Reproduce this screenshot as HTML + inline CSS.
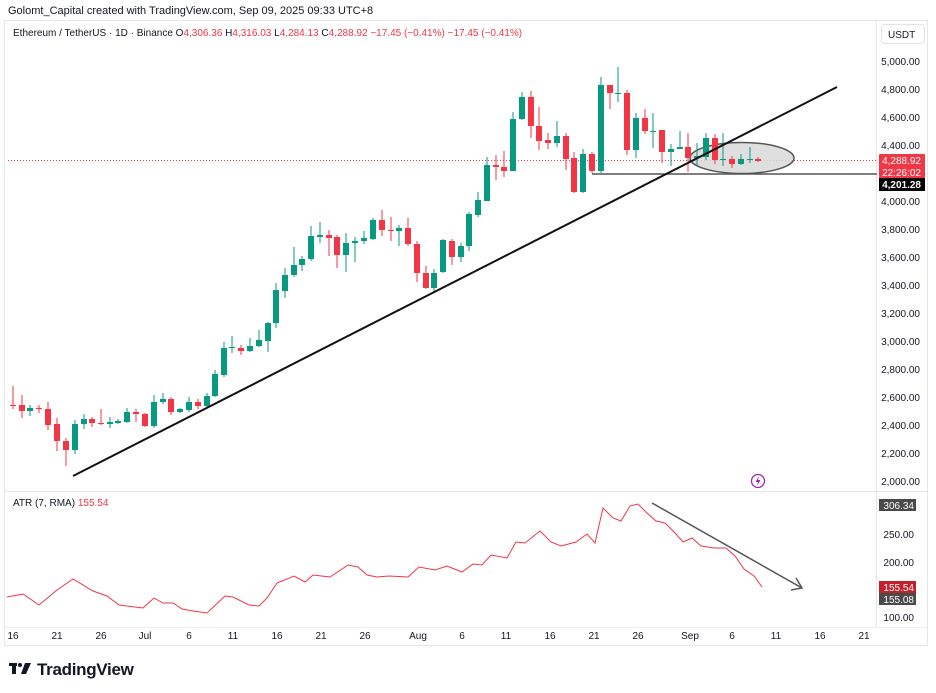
<!DOCTYPE html>
<html><head><meta charset="utf-8"><style>
html,body{margin:0;padding:0;background:#fff;width:936px;height:693px;overflow:hidden}
svg{display:block;font-family:"Liberation Sans",sans-serif}
</style></head><body>
<svg width="936" height="693" viewBox="0 0 936 693" xmlns="http://www.w3.org/2000/svg">
<rect width="936" height="693" fill="#fff"/>
<text x="8" y="14" font-size="11" fill="#131722">Golomt_Capital created with TradingView.com, Sep 09, 2025 09:33 UTC+8</text>
<!-- frame -->
<rect x="4.5" y="20.5" width="923" height="625" fill="none" stroke="#e6e6e6"/>
<line x1="876.5" y1="21" x2="876.5" y2="627" stroke="#e6e6e6"/>
<line x1="5" y1="491.5" x2="927" y2="491.5" stroke="#e6e6e6"/>
<line x1="5" y1="627.5" x2="927" y2="627.5" stroke="#eeeeee"/>
<text x="13" y="36" font-size="10" fill="#131722">Ethereum / TetherUS · 1D · Binance <tspan>O</tspan><tspan fill="#f23645">4,306.36</tspan> <tspan>H</tspan><tspan fill="#f23645">4,316.03</tspan> <tspan>L</tspan><tspan fill="#f23645">4,284.13</tspan> <tspan>C</tspan><tspan fill="#f23645">4,288.92  −17.45 (−0.41%)  −17.45 (−0.41%)</tspan></text>
<rect x="881.5" y="24.5" width="43" height="19" rx="3" fill="#fff" stroke="#e0e3eb"/>
<text x="888" y="38" font-size="10" fill="#131722">USDT</text>
<!-- price axis labels -->
<g font-size="10" fill="#131722" text-anchor="end">
<text x="920" y="65">5,000.00</text><text x="920" y="93">4,800.00</text><text x="920" y="121">4,600.00</text><text x="920" y="149">4,400.00</text>
<text x="920" y="205">4,000.00</text><text x="920" y="233">3,800.00</text><text x="920" y="261">3,600.00</text><text x="920" y="289">3,400.00</text>
<text x="920" y="317">3,200.00</text><text x="920" y="345">3,000.00</text><text x="920" y="373">2,800.00</text><text x="920" y="401">2,600.00</text>
<text x="920" y="429">2,400.00</text><text x="920" y="457">2,200.00</text><text x="920" y="485">2,000.00</text>
<text x="914" y="538">250.00</text><text x="914" y="566">200.00</text><text x="914" y="621">100.00</text>
</g>
<!-- dotted price line -->
<line x1="8" y1="160.5" x2="877" y2="160.5" stroke="#f23645" stroke-width="1" stroke-dasharray="1,2"/>
<!-- horizontal support -->
<line x1="592" y1="174" x2="877" y2="174" stroke="#555" stroke-width="1.5"/>
<!-- ellipse -->
<ellipse cx="742" cy="158" rx="52" ry="15.5" fill="#d9d9d9" fill-opacity="0.85" stroke="#555" stroke-width="1.5"/>
<!-- candles -->
<g id="c" stroke-width="1"></g>
<g>
<!--CANDLES-->
<line x1="13" y1="386" x2="13" y2="409" stroke="#f23645"/><rect x="10" y="405" width="6" height="1" fill="#f23645"/>
<line x1="22" y1="395" x2="22" y2="418" stroke="#f23645"/><rect x="19" y="405" width="6" height="6" fill="#f23645"/>
<line x1="30" y1="405" x2="30" y2="416" stroke="#089981"/><rect x="27" y="408" width="6" height="3" fill="#089981"/>
<line x1="39" y1="405" x2="39" y2="413" stroke="#f23645"/><rect x="36" y="408" width="6" height="1" fill="#f23645"/>
<line x1="48" y1="402" x2="48" y2="430" stroke="#f23645"/><rect x="45" y="409" width="6" height="16" fill="#f23645"/>
<line x1="57" y1="418" x2="57" y2="451" stroke="#f23645"/><rect x="54" y="424" width="6" height="17" fill="#f23645"/>
<line x1="66" y1="438" x2="66" y2="466" stroke="#f23645"/><rect x="63" y="441" width="6" height="9" fill="#f23645"/>
<line x1="75" y1="420" x2="75" y2="454" stroke="#089981"/><rect x="72" y="424" width="6" height="26" fill="#089981"/>
<line x1="84" y1="414" x2="84" y2="429" stroke="#089981"/><rect x="81" y="419" width="6" height="5" fill="#089981"/>
<line x1="92" y1="417" x2="92" y2="427" stroke="#f23645"/><rect x="89" y="419" width="6" height="4" fill="#f23645"/>
<line x1="101" y1="409" x2="101" y2="425" stroke="#f23645"/><rect x="98" y="423" width="6" height="1" fill="#f23645"/>
<line x1="110" y1="417" x2="110" y2="428" stroke="#089981"/><rect x="107" y="422" width="6" height="2" fill="#089981"/>
<line x1="118" y1="419" x2="118" y2="424" stroke="#089981"/><rect x="115" y="421" width="6" height="2" fill="#089981"/>
<line x1="127" y1="408" x2="127" y2="423" stroke="#089981"/><rect x="124" y="412" width="6" height="10" fill="#089981"/>
<line x1="136" y1="409" x2="136" y2="422" stroke="#f23645"/><rect x="133" y="412" width="6" height="2" fill="#f23645"/>
<line x1="145" y1="413" x2="145" y2="427" stroke="#f23645"/><rect x="142" y="414" width="6" height="12" fill="#f23645"/>
<line x1="154" y1="395" x2="154" y2="428" stroke="#089981"/><rect x="151" y="402" width="6" height="24" fill="#089981"/>
<line x1="163" y1="393" x2="163" y2="404" stroke="#089981"/><rect x="160" y="399" width="6" height="3" fill="#089981"/>
<line x1="171" y1="397" x2="171" y2="415" stroke="#f23645"/><rect x="168" y="399" width="6" height="13" fill="#f23645"/>
<line x1="180" y1="408" x2="180" y2="413" stroke="#089981"/><rect x="177" y="409" width="6" height="3" fill="#089981"/>
<line x1="189" y1="397" x2="189" y2="412" stroke="#089981"/><rect x="186" y="402" width="6" height="8" fill="#089981"/>
<line x1="198" y1="399" x2="198" y2="409" stroke="#f23645"/><rect x="195" y="402" width="6" height="4" fill="#f23645"/>
<line x1="207" y1="393" x2="207" y2="408" stroke="#089981"/><rect x="204" y="396" width="6" height="10" fill="#089981"/>
<line x1="215" y1="370" x2="215" y2="397" stroke="#089981"/><rect x="212" y="374" width="6" height="22" fill="#089981"/>
<line x1="224" y1="342" x2="224" y2="377" stroke="#089981"/><rect x="221" y="348" width="6" height="27" fill="#089981"/>
<line x1="232" y1="336" x2="232" y2="353" stroke="#089981"/><rect x="229" y="347" width="6" height="1" fill="#089981"/>
<line x1="241" y1="345" x2="241" y2="355" stroke="#f23645"/><rect x="238" y="348" width="6" height="3" fill="#f23645"/>
<line x1="250" y1="338" x2="250" y2="352" stroke="#089981"/><rect x="247" y="346" width="6" height="5" fill="#089981"/>
<line x1="259" y1="330" x2="259" y2="347" stroke="#089981"/><rect x="256" y="340" width="6" height="6" fill="#089981"/>
<line x1="268" y1="322" x2="268" y2="352" stroke="#089981"/><rect x="265" y="323" width="6" height="18" fill="#089981"/>
<line x1="276" y1="283" x2="276" y2="328" stroke="#089981"/><rect x="273" y="290" width="6" height="33" fill="#089981"/>
<line x1="285" y1="268" x2="285" y2="298" stroke="#089981"/><rect x="282" y="275" width="6" height="16" fill="#089981"/>
<line x1="294" y1="247" x2="294" y2="277" stroke="#089981"/><rect x="291" y="265" width="6" height="10" fill="#089981"/>
<line x1="302" y1="256" x2="302" y2="271" stroke="#089981"/><rect x="299" y="259" width="6" height="6" fill="#089981"/>
<line x1="311" y1="226" x2="311" y2="261" stroke="#089981"/><rect x="308" y="236" width="6" height="23" fill="#089981"/>
<line x1="320" y1="222" x2="320" y2="243" stroke="#089981"/><rect x="317" y="235" width="6" height="2" fill="#089981"/>
<line x1="329" y1="230" x2="329" y2="256" stroke="#f23645"/><rect x="326" y="235" width="6" height="3" fill="#f23645"/>
<line x1="337" y1="235" x2="337" y2="268" stroke="#f23645"/><rect x="334" y="237" width="6" height="18" fill="#f23645"/>
<line x1="346" y1="233" x2="346" y2="272" stroke="#089981"/><rect x="343" y="243" width="6" height="12" fill="#089981"/>
<line x1="355" y1="237" x2="355" y2="262" stroke="#089981"/><rect x="352" y="241" width="6" height="2" fill="#089981"/>
<line x1="364" y1="231" x2="364" y2="244" stroke="#089981"/><rect x="361" y="238" width="6" height="3" fill="#089981"/>
<line x1="373" y1="218" x2="373" y2="240" stroke="#089981"/><rect x="370" y="220" width="6" height="19" fill="#089981"/>
<line x1="382" y1="210" x2="382" y2="236" stroke="#f23645"/><rect x="379" y="220" width="6" height="10" fill="#f23645"/>
<line x1="391" y1="217" x2="391" y2="241" stroke="#f23645"/><rect x="388" y="230" width="6" height="1" fill="#f23645"/>
<line x1="399" y1="225" x2="399" y2="246" stroke="#089981"/><rect x="396" y="228" width="6" height="3" fill="#089981"/>
<line x1="408" y1="218" x2="408" y2="246" stroke="#f23645"/><rect x="405" y="228" width="6" height="16" fill="#f23645"/>
<line x1="417" y1="241" x2="417" y2="282" stroke="#f23645"/><rect x="414" y="244" width="6" height="29" fill="#f23645"/>
<line x1="426" y1="266" x2="426" y2="289" stroke="#f23645"/><rect x="423" y="273" width="6" height="15" fill="#f23645"/>
<line x1="434" y1="269" x2="434" y2="292" stroke="#089981"/><rect x="431" y="273" width="6" height="15" fill="#089981"/>
<line x1="443" y1="239" x2="443" y2="273" stroke="#089981"/><rect x="440" y="240" width="6" height="32" fill="#089981"/>
<line x1="452" y1="239" x2="452" y2="265" stroke="#f23645"/><rect x="449" y="241" width="6" height="16" fill="#f23645"/>
<line x1="461" y1="243" x2="461" y2="262" stroke="#089981"/><rect x="458" y="246" width="6" height="11" fill="#089981"/>
<line x1="469" y1="212" x2="469" y2="251" stroke="#089981"/><rect x="466" y="214" width="6" height="32" fill="#089981"/>
<line x1="478" y1="192" x2="478" y2="217" stroke="#089981"/><rect x="475" y="200" width="6" height="15" fill="#089981"/>
<line x1="487" y1="157" x2="487" y2="201" stroke="#089981"/><rect x="484" y="165" width="6" height="36" fill="#089981"/>
<line x1="496" y1="155" x2="496" y2="180" stroke="#f23645"/><rect x="493" y="165" width="6" height="2" fill="#f23645"/>
<line x1="504" y1="151" x2="504" y2="177" stroke="#f23645"/><rect x="501" y="167" width="6" height="4" fill="#f23645"/>
<line x1="513" y1="112" x2="513" y2="171" stroke="#089981"/><rect x="510" y="119" width="6" height="52" fill="#089981"/>
<line x1="522" y1="92" x2="522" y2="120" stroke="#089981"/><rect x="519" y="97" width="6" height="22" fill="#089981"/>
<line x1="531" y1="91" x2="531" y2="138" stroke="#f23645"/><rect x="528" y="97" width="6" height="29" fill="#f23645"/>
<line x1="539" y1="107" x2="539" y2="150" stroke="#f23645"/><rect x="536" y="126" width="6" height="15" fill="#f23645"/>
<line x1="548" y1="133" x2="548" y2="149" stroke="#f23645"/><rect x="545" y="140" width="6" height="3" fill="#f23645"/>
<line x1="557" y1="121" x2="557" y2="147" stroke="#089981"/><rect x="554" y="136" width="6" height="7" fill="#089981"/>
<line x1="566" y1="133" x2="566" y2="170" stroke="#f23645"/><rect x="563" y="136" width="6" height="23" fill="#f23645"/>
<line x1="574" y1="152" x2="574" y2="193" stroke="#f23645"/><rect x="571" y="158" width="6" height="34" fill="#f23645"/>
<line x1="583" y1="149" x2="583" y2="193" stroke="#089981"/><rect x="580" y="154" width="6" height="38" fill="#089981"/>
<line x1="592" y1="152" x2="592" y2="173" stroke="#f23645"/><rect x="589" y="154" width="6" height="17" fill="#f23645"/>
<line x1="601" y1="77" x2="601" y2="173" stroke="#089981"/><rect x="598" y="85" width="6" height="86" fill="#089981"/>
<line x1="610" y1="85" x2="610" y2="109" stroke="#f23645"/><rect x="607" y="85" width="6" height="8" fill="#f23645"/>
<line x1="618" y1="67" x2="618" y2="102" stroke="#089981"/><rect x="615" y="93" width="6" height="1" fill="#089981"/>
<line x1="627" y1="90" x2="627" y2="155" stroke="#f23645"/><rect x="624" y="93" width="6" height="57" fill="#f23645"/>
<line x1="636" y1="113" x2="636" y2="158" stroke="#089981"/><rect x="633" y="118" width="6" height="32" fill="#089981"/>
<line x1="645" y1="109" x2="645" y2="134" stroke="#f23645"/><rect x="642" y="118" width="6" height="13" fill="#f23645"/>
<line x1="653" y1="113" x2="653" y2="148" stroke="#089981"/><rect x="650" y="131" width="6" height="1" fill="#089981"/>
<line x1="662" y1="130" x2="662" y2="163" stroke="#f23645"/><rect x="659" y="130" width="6" height="22" fill="#f23645"/>
<line x1="671" y1="144" x2="671" y2="166" stroke="#089981"/><rect x="668" y="149" width="6" height="3" fill="#089981"/>
<line x1="680" y1="131" x2="680" y2="149" stroke="#089981"/><rect x="677" y="147" width="6" height="2" fill="#089981"/>
<line x1="688" y1="133" x2="688" y2="172" stroke="#f23645"/><rect x="685" y="147" width="6" height="11" fill="#f23645"/>
<line x1="697" y1="143" x2="697" y2="166" stroke="#089981"/><rect x="694" y="156" width="6" height="2" fill="#089981"/>
<line x1="706" y1="133" x2="706" y2="160" stroke="#089981"/><rect x="703" y="138" width="6" height="19" fill="#089981"/>
<line x1="715" y1="134" x2="715" y2="164" stroke="#f23645"/><rect x="712" y="138" width="6" height="22" fill="#f23645"/>
<line x1="723" y1="133" x2="723" y2="166" stroke="#089981"/><rect x="720" y="159" width="6" height="1" fill="#089981"/>
<line x1="732" y1="156" x2="732" y2="168" stroke="#f23645"/><rect x="729" y="159" width="6" height="5" fill="#f23645"/>
<line x1="741" y1="154" x2="741" y2="165" stroke="#089981"/><rect x="738" y="159" width="6" height="5" fill="#089981"/>
<line x1="750" y1="147" x2="750" y2="163" stroke="#089981"/><rect x="747" y="159" width="6" height="1" fill="#089981"/>
<line x1="758" y1="157" x2="758" y2="162" stroke="#f23645"/><rect x="755" y="159" width="6" height="2" fill="#f23645"/>
</g>
<!-- trendline -->
<line x1="73" y1="476" x2="837" y2="87" stroke="#111" stroke-width="2"/>
<!-- price tags -->
<rect x="879" y="154" width="46" height="24" rx="1" fill="#f23645"/>
<text x="921" y="164" font-size="10" fill="#fff" text-anchor="end">4,288.92</text>
<text x="921" y="176" font-size="10" fill="#fff" text-anchor="end">22:26:02</text>
<rect x="879" y="178" width="46" height="13" fill="#000"/>
<text x="921" y="188" font-size="10" fill="#fff" text-anchor="end" font-weight="bold">4,201.28</text>
<!-- lightning icon -->
<circle cx="758" cy="481" r="6.5" fill="#fff" stroke="#9c27b0" stroke-width="1.3"/>
<path d="M759 476 L755.5 482 L758 482 L757 486 L760.5 480 L758 480 Z" fill="#9c27b0"/>
<!-- ATR -->
<text x="13" y="506" font-size="10" fill="#131722">ATR (7, RMA) <tspan fill="#f23645">155.54</tspan></text>
<polyline fill="none" stroke="#f23645" stroke-width="1" points="7,597 23,594 39,605 57,590 73,579 93,591 107,596 119,605 143,608 154,598 163,603 173,603 182,609 193,611 207,613 225,596 233,597 249,605 259,606 267,598 277,583 294,576 305,582 313,575 330,577 348,565 358,567 367,575 377,577 389,576 408,577 419,567 435,570 447,566 462,572 473,564 482,565 491,555 507,558 516,542 525,543 540,531 551,542 561,546 576,542 587,534 595,543 603,508 613,518 621,521 630,506 638,504 647,513 656,521 665,523 675,533 683,542 692,538 701,546 714,548 726,548 735,556 744,569 754,576 762,587"/>
<line x1="652" y1="503" x2="802" y2="588" stroke="#555" stroke-width="1.5"/>
<polyline points="796,578 802,588 791,590" fill="none" stroke="#555" stroke-width="1.5"/>
<rect x="879" y="499" width="37" height="12" fill="#4a4a4a"/>
<text x="914" y="509" font-size="10" fill="#fff" text-anchor="end">306.34</text>
<rect x="879" y="581" width="37" height="12" fill="#c2202a"/>
<text x="914" y="591" font-size="10" fill="#fff" text-anchor="end">155.54</text>
<rect x="879" y="593" width="37" height="12" fill="#4a4a4a"/>
<text x="914" y="603" font-size="10" fill="#fff" text-anchor="end">155.08</text>
<!-- time axis -->
<g font-size="10" fill="#131722" text-anchor="middle">
<text x="13" y="639">16</text><text x="57" y="639">21</text><text x="101" y="639">26</text><text x="145" y="639">Jul</text>
<text x="189" y="639">6</text><text x="233" y="639">11</text><text x="277" y="639">16</text><text x="321" y="639">21</text>
<text x="365" y="639">26</text><text x="418" y="639">Aug</text><text x="462" y="639">6</text><text x="506" y="639">11</text>
<text x="550" y="639">16</text><text x="594" y="639">21</text><text x="638" y="639">26</text><text x="690" y="639">Sep</text>
<text x="732" y="639">6</text><text x="776" y="639">11</text><text x="820" y="639">16</text><text x="864" y="639">21</text>
</g>
<!-- logo -->
<g fill="#131722">
<rect x="9" y="663" width="8" height="3"/><rect x="12" y="663" width="4" height="11"/>
<circle cx="20" cy="665" r="2"/>
<path d="M25 663 L31 663 L26 674 L21 674 Z"/>
</g>
<text x="37" y="675" font-size="17" font-weight="bold" fill="#131722" letter-spacing="-0.3">TradingView</text>
</svg>
</body></html>
